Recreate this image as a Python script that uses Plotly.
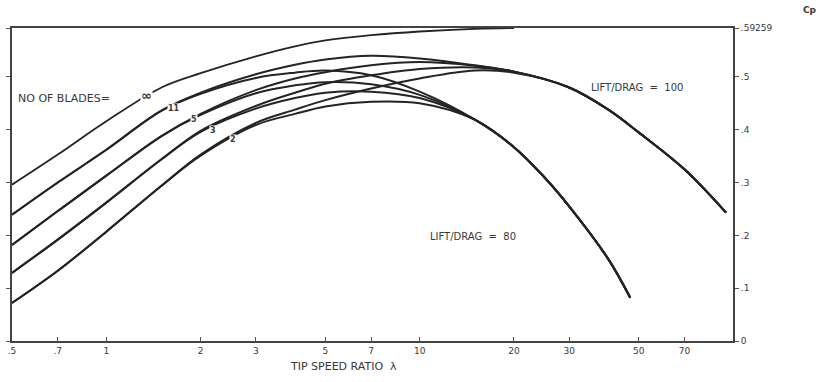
import plotly.graph_objects as go

# ---- data ----
lam_ideal = [0.5, 0.7, 1, 1.5, 2, 3, 4, 5, 7, 10, 15, 20]
cp_ideal = [0.296, 0.353, 0.416, 0.480, 0.507, 0.539, 0.558, 0.569, 0.579, 0.586, 0.591, 0.5926]

lam_ld100 = [0.5, 0.7, 1, 1.5, 2, 3, 4, 5, 7, 10, 15, 20, 30, 40, 50, 70, 95]
lam_ld80 = [0.5, 0.7, 1, 1.5, 2, 3, 4, 5, 7, 10, 15, 20, 25, 30, 40, 47]

b11_ld100 = [0.239, 0.300, 0.362, 0.436, 0.470, 0.505, 0.523, 0.533, 0.540, 0.535, 0.522, 0.510, 0.480, 0.438, 0.395, 0.325, 0.243]
b5_ld100 = [0.182, 0.246, 0.313, 0.388, 0.430, 0.475, 0.497, 0.509, 0.522, 0.528, 0.521, 0.510, 0.480, 0.438, 0.395, 0.325, 0.243]
b3_ld100 = [0.129, 0.192, 0.262, 0.344, 0.398, 0.445, 0.470, 0.487, 0.503, 0.515, 0.518, 0.510, 0.480, 0.438, 0.395, 0.325, 0.243]
b2_ld100 = [0.072, 0.133, 0.207, 0.294, 0.353, 0.413, 0.438, 0.456, 0.478, 0.497, 0.512, 0.508, 0.480, 0.438, 0.395, 0.325, 0.243]

b11_ld80 = [0.239, 0.300, 0.362, 0.436, 0.468, 0.498, 0.508, 0.512, 0.503, 0.472, 0.419, 0.367, 0.310, 0.255, 0.155, 0.082]
b5_ld80 = [0.182, 0.246, 0.313, 0.388, 0.428, 0.469, 0.484, 0.490, 0.486, 0.466, 0.419, 0.367, 0.310, 0.255, 0.155, 0.082]
b3_ld80 = [0.129, 0.192, 0.262, 0.344, 0.396, 0.440, 0.460, 0.470, 0.472, 0.460, 0.419, 0.367, 0.310, 0.255, 0.155, 0.082]
b2_ld80 = [0.072, 0.133, 0.207, 0.294, 0.351, 0.409, 0.430, 0.444, 0.453, 0.450, 0.419, 0.367, 0.310, 0.255, 0.155, 0.082]

x_tickvals = [0.5, 0.7, 1, 2, 3, 5, 7, 10, 20, 30, 50, 70]
x_ticktext = [".5", ".7", "1", "2", "3", "5", "7", "10", "20", "30", "50", "70"]
y_tickvals = [0, 0.1, 0.2, 0.3, 0.4, 0.5, 0.59259]
y_ticktext = ["0", ".1", ".2", ".3", ".4", ".5", ".59259"]

blade_labels = ["11", "5", "3", "2"]

LINE = "#242424"
TXT = "#383838"

fig = go.Figure()
fig.add_trace(go.Scatter(x=lam_ideal, y=cp_ideal, mode="lines", line_shape="spline",
                         line=dict(color=LINE, width=1.8), showlegend=False, hoverinfo="skip"))
for ys in [b11_ld100, b5_ld100, b3_ld100, b2_ld100]:
    fig.add_trace(go.Scatter(x=lam_ld100, y=ys, mode="lines", line_shape="spline",
                             line=dict(color=LINE, width=2), showlegend=False, hoverinfo="skip"))
for ys in [b11_ld80, b5_ld80, b3_ld80, b2_ld80]:
    fig.add_trace(go.Scatter(x=lam_ld80, y=ys, mode="lines", line_shape="spline",
                             line=dict(color=LINE, width=2), showlegend=False, hoverinfo="skip"))

W, H = 823, 382
L, R, T, B = 12, 90, 28, 41
pw, ph = W - L - R, H - T - B


def px(xp, yp):
    return (xp - L) / pw, (H - B - yp) / ph


def note(text, xp, yp, size=10, xanchor="center", bg="white", bold=False):
    x, y = px(xp, yp)
    t = "<b>%s</b>" % text if bold else text
    fig.add_annotation(x=x, y=y, xref="paper", yref="paper", text=t, showarrow=False,
                       xanchor=xanchor, yanchor="middle", bgcolor=bg, borderpad=0,
                       font=dict(family="DejaVu Sans", size=size, color=TXT))


note("NO OF BLADES=", 17, 98, size=11, xanchor="left")
note("∞", 146, 95, size=13, bold=True)
for lab, (xp, yp) in zip(blade_labels, [(174, 108), (194, 119), (213, 130), (233, 139)]):
    note(lab, xp, yp, size=8, bold=True)
note("LIFT/DRAG  =  100", 637, 87, size=10)
note("LIFT/DRAG  =  80", 473, 236, size=10)
note("TIP SPEED RATIO  λ", 343, 366, size=11, bg="rgba(0,0,0,0)")
note("Cp", 810, 10, size=9, bold=True, bg="rgba(0,0,0,0)")

fig.update_layout(
    width=W, height=H,
    margin=dict(l=L, r=R, t=T, b=B, autoexpand=False),
    paper_bgcolor="white", plot_bgcolor="white",
    font=dict(family="DejaVu Sans", size=9, color=TXT),
    xaxis=dict(type="log", range=[-0.30103, 2.0], tickvals=x_tickvals, ticktext=x_ticktext,
               ticks="inside", ticklen=4, tickcolor="#555", showline=True, linecolor="#444",
               linewidth=2, mirror=True, showgrid=False, zeroline=False, automargin=False,
               tickfont=dict(size=9, color=TXT)),
    yaxis=dict(range=[0, 0.59259], side="right", tickvals=y_tickvals, ticktext=y_ticktext,
               ticks="outside", ticklen=4, tickcolor="#555", showline=True, linecolor="#444",
               linewidth=2, mirror="ticks", showgrid=False, zeroline=False, automargin=False,
               tickfont=dict(size=9, color=TXT)),
)

fig.write_html("out.html", config={"displayModeBar": False},
               post_script="document.body.style.margin='0';")
